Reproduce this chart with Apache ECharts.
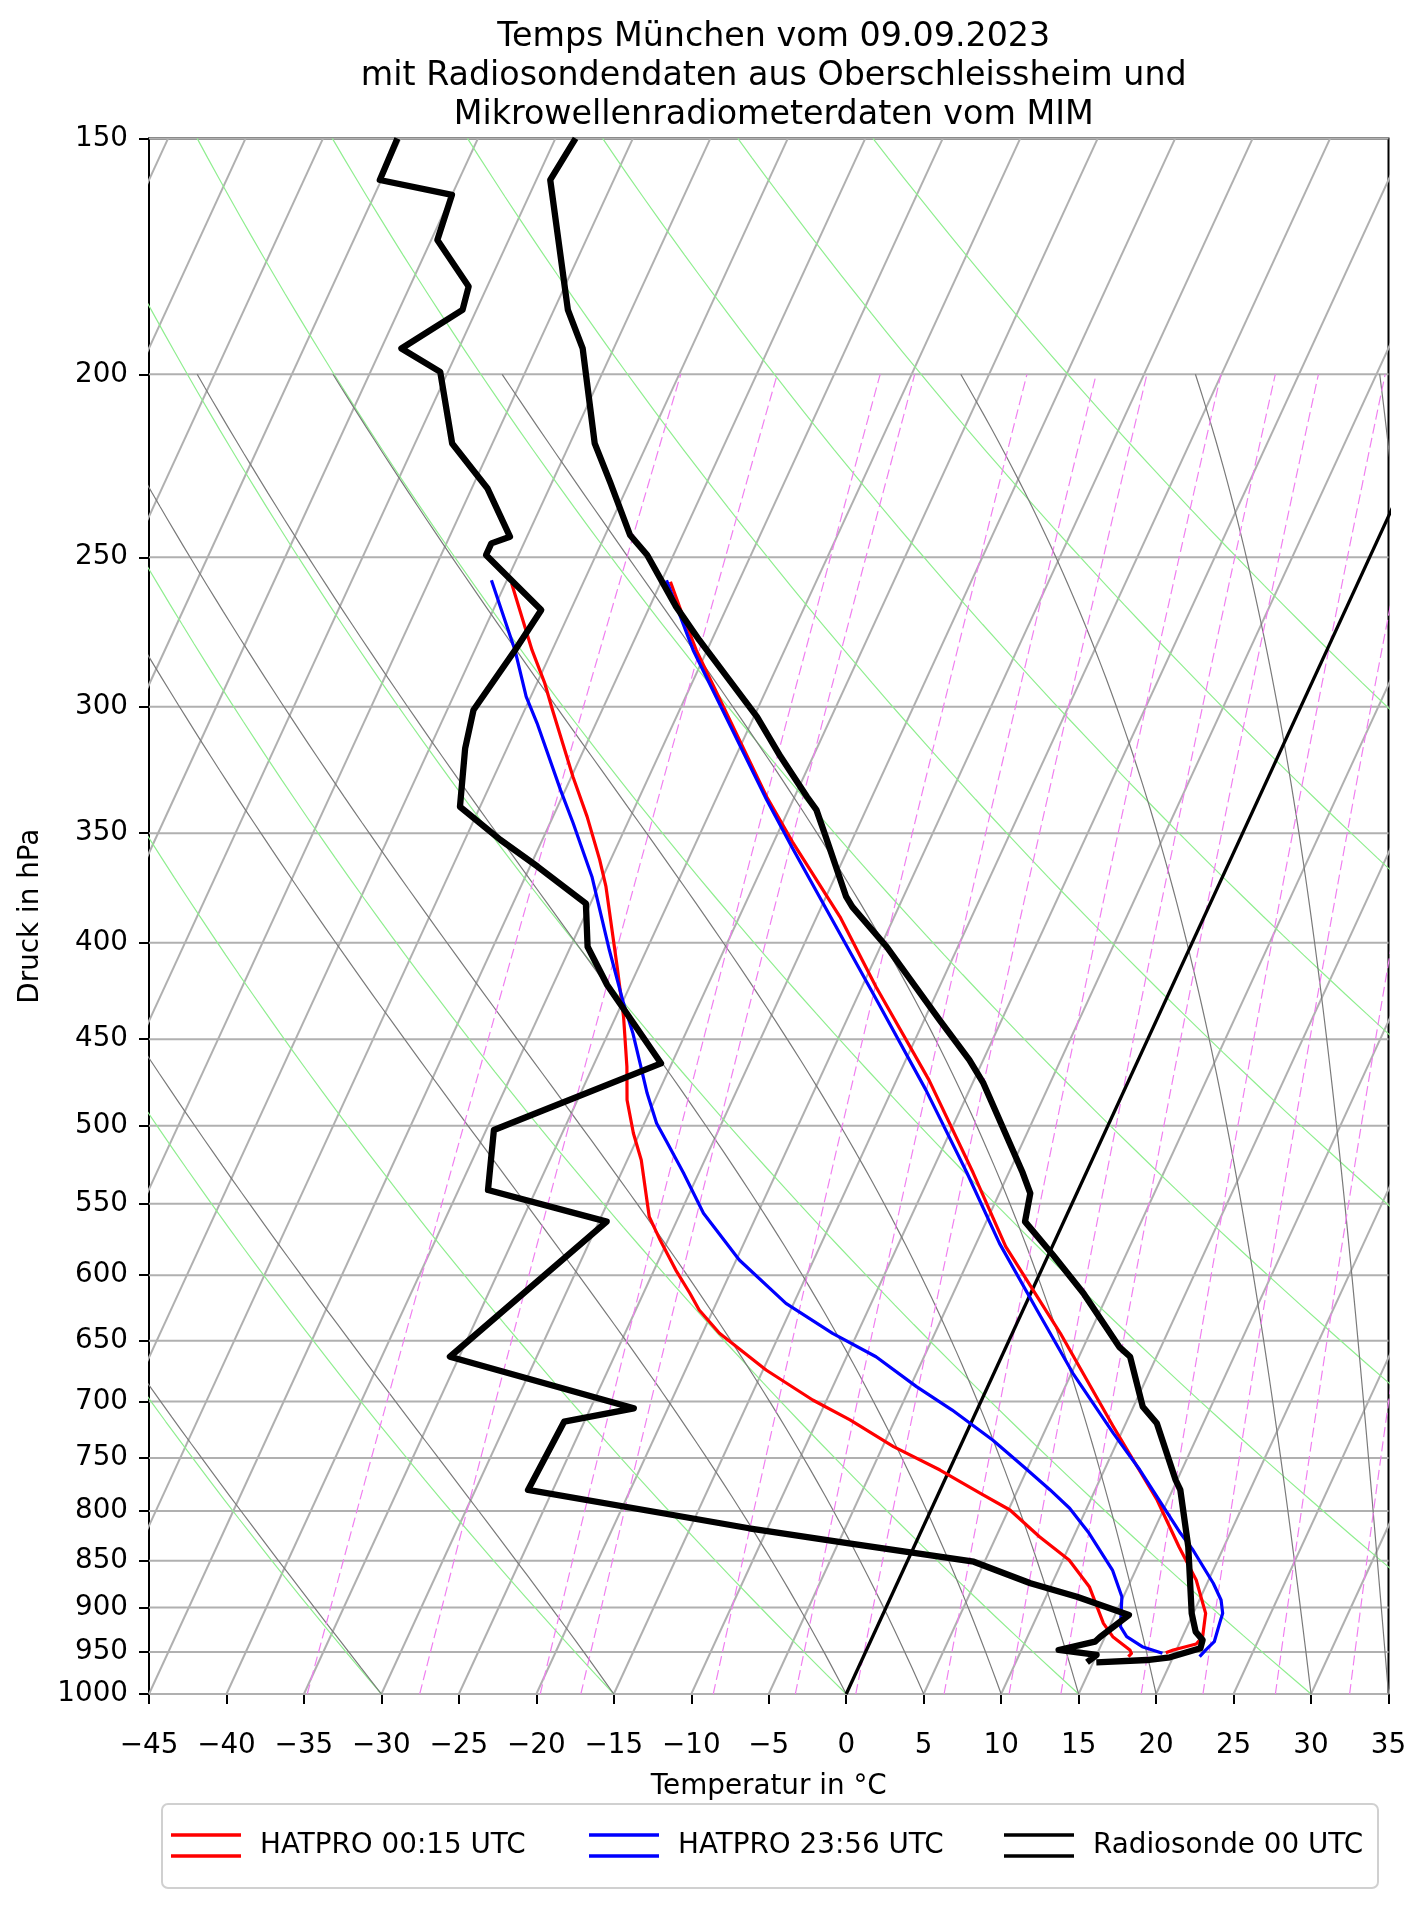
<!DOCTYPE html>
<html>
<head>
<meta charset="utf-8">
<script src="https://cdn.jsdelivr.net/npm/echarts/dist/echarts.min.js"></script>
<style>
html,body{margin:0;padding:0;background:#fff;}
#chart{width:1427px;height:1907px;}
</style>
</head>
<body>
<div id="chart"></div>
<script>
// ---------------- data (pressure in hPa, temperature in °C) ----------------
// Radiosonde Oberschleissheim 00 UTC - temperature
const sondeTempP = [150.0,157.8,184.9,193.8,217.6,228.4,243.3,249.3,265.5,276.6,303.7,318.8,334.8,340.2,351.5,378.2,382.9,402.0,439.6,461.5,474.8,529.6,543.0,562.1,585.5,613.4,654.8,662.8,704.4,718.8,770.3,779.7,835.6,906.3,926.8,936.3,945.8,956.2,959.4,962.1];
const sondeTemp  = [-63.7,-64.1,-59.1,-57.0,-53.4,-51.2,-48.4,-46.7,-43.3,-40.8,-34.8,-32.1,-29.2,-28.2,-26.8,-23.7,-23.0,-19.6,-14.0,-10.9,-9.3,-4.1,-3.0,-2.5,0.3,3.4,7.3,8.3,10.6,12.0,14.9,15.5,17.7,19.9,20.7,21.4,21.5,19.8,18.4,15.2];
// Radiosonde - dew point
const sondeDewP = [150.0,157.8,160.7,169.8,179.7,184.9,193.8,199.4,217.6,229.8,243.8,245.8,249.3,266.6,280.0,301.2,315.6,338.9,352.9,364.6,381.3,402.0,421.2,463.4,502.7,540.8,562.1,662.8,705.8,717.4,779.7,805.6,817.0,832.1,851.0,873.7,888.1,908.2,932.5,938.2,947.7,953.5,962.1];
const sondeDew  = [-75.2,-75.1,-70.0,-69.6,-66.2,-65.9,-68.7,-65.5,-62.6,-59.0,-56.1,-57.1,-57.1,-51.9,-52.4,-53.3,-52.7,-51.3,-47.7,-44.5,-40.3,-38.9,-36.5,-30.7,-39.5,-38.1,-29.5,-35.6,-22.2,-26.3,-26.6,-15.8,-11.2,-4.3,4.3,8.6,12.0,15.9,14.7,14.5,12.4,15.0,14.6];
// HATPRO 00:15 UTC
const hat1TempP = [257.6,266.6,280.0,334.8,353.7,387.6,422.1,473.0,529.6,579.5,644.1,721.8,789.3,835.6,870.2,906.3,932.5,940.8,947.7,950.9];
const hat1Temp  = [-44.4,-42.9,-40.7,-31.8,-28.8,-23.5,-19.1,-12.9,-7.3,-3.0,3.1,9.3,14.3,17.1,19.2,20.8,21.3,21.1,19.8,19.4];
const hat1DewP = [258.1,280.0,291.5,301.2,326.7,343.0,361.6,373.6,411.9,437.8,465.3,484.6,504.7,521.4,558.7,574.9,596.3,613.4,626.1,644.1,673.6,698.7,715.9,739.6,761.0,782.9,799.0,825.5,849.2,877.3,917.4,932.5,947.7,951.6,955.5];
const hat1Dew  = [-54.6,-51.3,-49.5,-48.2,-44.9,-42.8,-40.7,-39.5,-36.4,-34.5,-32.8,-31.8,-30.4,-29.1,-26.9,-25.5,-23.6,-22.0,-20.9,-18.9,-14.8,-10.9,-7.9,-4.3,-0.6,2.7,5.1,7.8,10.4,12.5,14.5,15.5,17.0,17.2,17.1];
// HATPRO 23:56 UTC
const hat2TempP = [257.1,280.0,336.1,355.8,425.5,478.8,529.6,577.2,626.1,676.3,727.7,761.0,822.0,838.9,873.7,891.7,906.3,917.4,938.2,947.7,955.5];
const hat2Temp  = [-44.7,-40.9,-31.7,-28.7,-19.1,-12.8,-7.7,-3.5,0.9,5.1,9.5,12.3,16.8,18.1,20.4,21.4,21.9,22.0,22.2,21.9,21.7];
const hat2DewP = [257.1,280.0,296.3,306.1,332.1,345.8,369.1,384.4,403.6,430.7,446.8,465.3,480.7,498.6,509.9,529.6,556.4,589.0,621.0,644.1,662.8,687.4,707.3,733.6,757.9,779.7,797.3,822.0,859.7,888.1,921.2,932.5,943.9,951.6];
const hat2Dew  = [-56.0,-52.4,-50.3,-48.8,-45.3,-43.5,-40.7,-39.2,-37.4,-34.9,-33.4,-31.9,-30.7,-29.2,-28.0,-26.0,-23.5,-19.8,-15.5,-11.6,-8.1,-4.6,-1.6,1.9,4.7,7.1,8.9,10.9,13.5,14.9,15.7,16.4,17.7,19.2];

// axis ticks
const pressureTicks = [1000,950,900,850,800,750,700,650,600,550,500,450,400,350,300,250,200,150];
const tempMin = -45, tempMax = 35, tempStep = 5;
// reference lines of the diagram
const isothermStarts = [-130, 35];            // isotherms every 5 °C
const dryAdiabatTheta = [-30,-15,0,15,30,45,60,75,90,105,120]; // °C at 1000 hPa
const moistAdiabatT0 = [-30,-15,0,5,10,15,20,30,35,40];         // °C at 1000 hPa
const mixingRatios = [0.0002,0.0004,0.0008,0.001,0.002,0.003,0.004,0.006,0.008,0.010,0.014,0.018,0.024,0.032];

const legendNames = ['HATPRO 00:15 UTC','HATPRO 23:56 UTC','Radiosonde 00 UTC'];

// ---------------- skew-T helpers ----------------
const FONT = "'DejaVu Sans', 'Liberation Sans', sans-serif";
const K = 24.37; // skew: °C shift per ln(1000/p)
function skew(T, p) { return T + K * Math.log(1000 / p); }
function logspace(p0, p1, n) { const a = []; for (let i = 0; i <= n; i++) a.push(p0 * Math.pow(p1 / p0, i / n)); return a; }
function profile(P, T) { return P.map((p, i) => [skew(T[i], p), p]); }

const Rd = 287.04749, Cp = 1004.6662, Lv = 2.50084e6, EPS = 0.6219569, KAP = Rd / Cp;
function es(TK) { return 6.112 * Math.exp(17.67 * (TK - 273.15) / (TK - 29.65)); }
function rsat(p, TK) { const e = es(TK); return EPS * e / (p - e); }
function dTdp(p, TK) { const r = rsat(p, TK); return (Rd * TK + Lv * r) / (Cp + Lv * Lv * r * EPS / (Rd * TK * TK)) / p; }
function moistLine(T0, pTop) {
  let T = T0 + 273.15, p = 1000; const pts = [[skew(T0, 1000), 1000]];
  const n = 600, ratio = Math.pow(pTop / 1000, 1 / n);
  for (let i = 0; i < n; i++) {
    const p2 = p * ratio, h = p2 - p;
    const k1 = dTdp(p, T), k2 = dTdp(p + h / 2, T + h / 2 * k1), k3 = dTdp(p + h / 2, T + h / 2 * k2), k4 = dTdp(p2, T + h * k3);
    T += h / 6 * (k1 + 2 * k2 + 2 * k3 + k4); p = p2;
    if (i % 6 === 5) pts.push([skew(T - 273.15, p), p]);
  }
  return pts;
}
function dryLine(th) { return logspace(1000, 150, 80).map(p => [skew((th + 273.15) * Math.pow(p / 1000, KAP) - 273.15, p), p]); }
function mixLine(w) {
  return logspace(1000, 200, 60).map(p => { const e = w * p / (EPS + w); const l = Math.log(e / 6.112); const td = 243.5 * l / (17.67 - l); return [skew(td, p), p]; });
}

// ---------------- series ----------------
const series = [];
function bg(pts, style, z) {
  series.push({ type: 'line', data: pts, symbol: 'none', silent: true, clip: true, z: z, lineStyle: style, animation: false, emphasis: { disabled: true } });
}
for (let t = isothermStarts[0]; t <= isothermStarts[1]; t += tempStep) {
  bg([[skew(t, 1000), 1000], [skew(t, 150), 150]], { color: '#b0b0b0', width: 2 }, 1);
}
pressureTicks.forEach(p => bg([[tempMin, p], [tempMax, p]], { color: '#b0b0b0', width: 2 }, 1));
dryAdiabatTheta.forEach(th => bg(dryLine(th), { color: '#90ee90', width: 1.2 }, 2));
moistAdiabatT0.forEach(t0 => bg(moistLine(t0, 200), { color: '#7a7a7a', width: 1.2 }, 2));
mixingRatios.forEach(w => bg(mixLine(w), { color: '#f080f0', width: 1.2, type: [10, 4.4] }, 2));
// 0 °C isotherm
bg([[skew(0, 1000), 1000], [skew(0, 150), 150]], { color: '#000', width: 3.3 }, 3);

function dataLine(name, P, T, color, width) {
  series.push({ name: name, type: 'line', data: profile(P, T), symbol: 'none', clip: true, z: 5, color: color,
    lineStyle: { color: color, width: width, join: 'round' }, itemStyle: { color: color }, animation: false, silent: true });
}
dataLine(legendNames[0], hat1TempP, hat1Temp, '#ff0000', 3.2);
dataLine(legendNames[0], hat1DewP, hat1Dew, '#ff0000', 3.2);
dataLine(legendNames[1], hat2TempP, hat2Temp, '#0000ff', 3.2);
dataLine(legendNames[1], hat2DewP, hat2Dew, '#0000ff', 3.2);
dataLine(legendNames[2], sondeTempP, sondeTemp, '#000000', 6.3);
dataLine(legendNames[2], sondeDewP, sondeDew, '#000000', 6.3);

const icon = 'path://M0,0L70,0L70,3.6L0,3.6Z M0,21L70,21L70,24.6L0,24.6Z';
const legendColors = ['#ff0000', '#0000ff', '#000000'];
const legendLefts = [171, 589, 1004];
const legends = legendNames.map((n, i) => ({
  data: [{ name: n, icon: icon, itemStyle: { color: legendColors[i], borderWidth: 0 } }],
  left: legendLefts[i], top: 1830.5, padding: 0, itemWidth: 70, itemHeight: 24.6, itemGap: 0,
  selectedMode: false, z: 10,
  textStyle: { fontFamily: FONT, fontSize: 27.8, color: '#000', padding: [0, 0, 0, 14], lineHeight: 30 }
}));

const fmtNum = v => (v < 0 ? '\u2212' + Math.abs(v) : String(v));

const option = {
  backgroundColor: '#fff',
  animation: false,
  title: {
    text: 'Temps München vom 09.09.2023\nmit Radiosondendaten aus Oberschleissheim und\nMikrowellenradiometerdaten vom MIM',
    left: 768.75, textAlign: 'center', top: 13,
    textStyle: { fontFamily: FONT, fontSize: 33.3, fontWeight: 'normal', color: '#000', lineHeight: 39 }
  },
  legend: legends,
  graphic: [{ type: 'rect', shape: { x: 162, y: 1804, width: 1216, height: 84, r: 6 }, style: { fill: '#fff', stroke: '#d0d0d0', lineWidth: 2 }, z: 1 }],
  grid: { left: 149, right: 38.5, top: 138.4, bottom: 213, show: true, borderColor: '#000', borderWidth: 2, backgroundColor: 'transparent', containLabel: false },
  xAxis: {
    type: 'value', min: tempMin, max: tempMax, interval: tempStep,
    name: 'Temperatur in °C', nameLocation: 'middle', nameGap: 79,
    nameTextStyle: { fontFamily: FONT, fontSize: 27.8, color: '#000' },
    axisLine: { show: true, onZero: false, lineStyle: { color: '#000', width: 2 } },
    axisTick: { show: true, length: 10, lineStyle: { color: '#000', width: 2 } },
    axisLabel: { fontFamily: FONT, fontSize: 27.8, color: '#000', margin: 38, formatter: fmtNum },
    splitLine: { show: false }
  },
  yAxis: {
    type: 'log', logBase: 10, min: 150, max: 1000, inverse: true,
    name: 'Druck in hPa', nameLocation: 'middle', nameGap: 104, nameRotate: 90,
    nameTextStyle: { fontFamily: FONT, fontSize: 27.8, color: '#000' },
    axisLine: { show: true, onZero: false, lineStyle: { color: '#000', width: 2 } },
    axisTick: { show: true, length: 10, lineStyle: { color: '#000', width: 2 }, customValues: pressureTicks },
    axisLabel: { fontFamily: FONT, fontSize: 27.8, color: '#000', margin: 21, customValues: pressureTicks, formatter: v => String(Math.round(v)) },
    splitLine: { show: false }, minorTick: { show: false }, minorSplitLine: { show: false }
  },
  series: series
};

const chart = echarts.init(document.getElementById('chart'), null, { renderer: 'canvas' });
chart.setOption(option);
</script>
</body>
</html>
